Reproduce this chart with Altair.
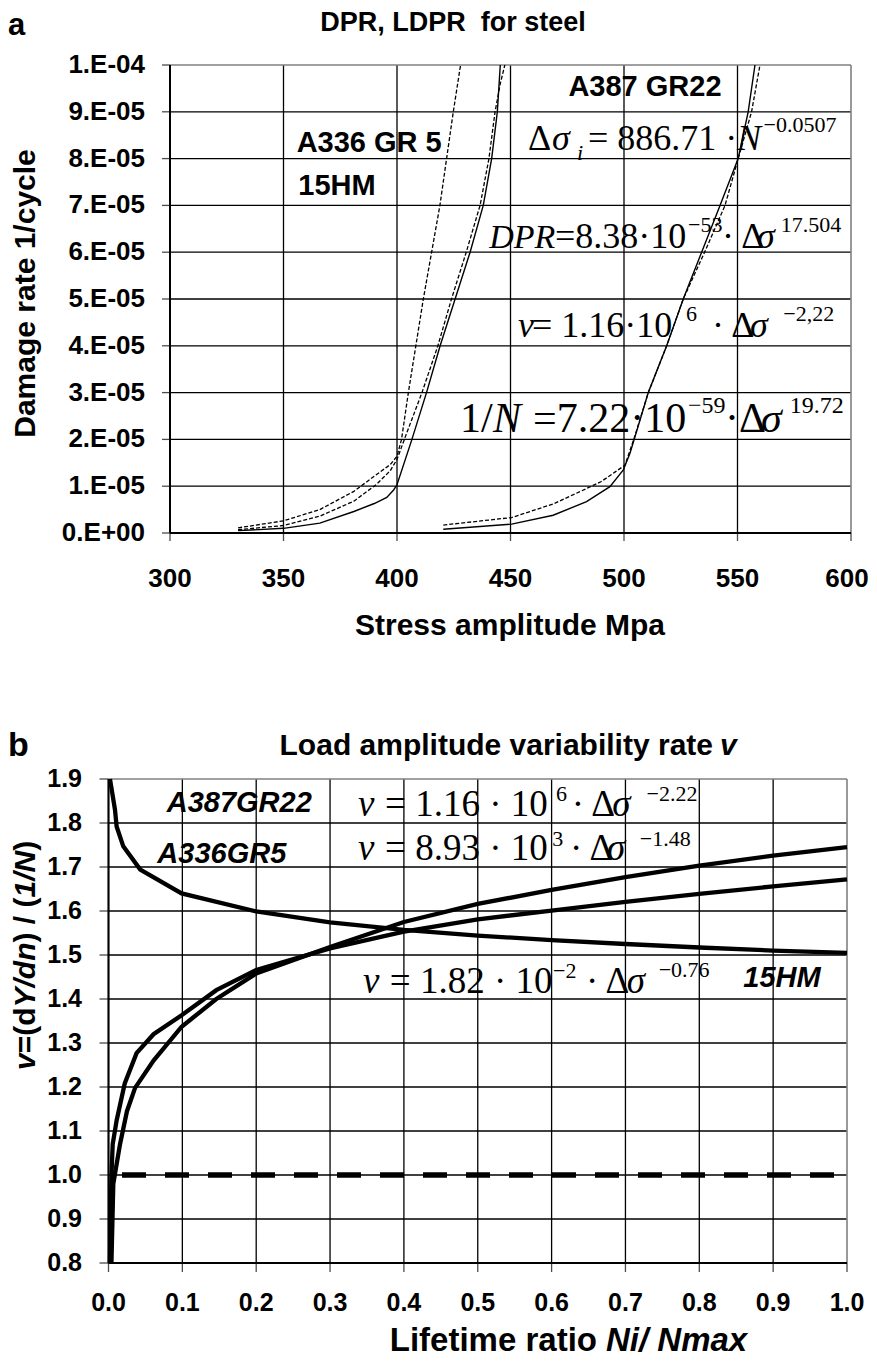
import altair as alt
import pandas as pd

# ---------------- Panel a : damage rate (in 1E-05 1/cycle) vs stress amplitude (MPa)
a336_solid_x = [330, 350, 366, 381, 390, 395.5, 398.5, 400, 406.5, 413, 419, 425.6, 432.2, 438, 441.7, 444.2, 445.5]
a336_solid_y = [0.05, 0.10, 0.21, 0.46, 0.63, 0.76, 0.92, 1.03, 1.99, 3.0, 4.0, 5.0, 6.0, 7.0, 8.0, 9.0, 10.0]
a336_dash1_x = [330, 350, 366, 381, 391, 397, 400, 402, 405, 411.6, 418.9, 424.8, 428]
a336_dash1_y = [0.11, 0.26, 0.50, 0.89, 1.25, 1.46, 1.64, 2.0, 3.0, 5.0, 7.0, 9.0, 10.0]
a336_dash2_x = [330, 350, 366, 381, 391, 397, 400, 404, 411, 418, 424, 430.5, 436.6, 440.5, 443.2, 445.5, 447.5]
a336_dash2_y = [0.07, 0.16, 0.36, 0.68, 1.04, 1.33, 1.57, 2.1, 3.0, 4.0, 5.0, 6.0, 7.0, 8.0, 9.0, 9.6, 10.0]
a387_solid_x = [420.4, 450.5, 468.8, 483.5, 493.8, 499.7, 502.6, 504.5, 510.7, 518.8, 526.1, 534.2, 542.3, 550.3, 554.7, 557.7]
a387_solid_y = [0.08, 0.19, 0.38, 0.67, 0.99, 1.35, 1.70, 2.0, 3.0, 4.0, 5.0, 6.0, 7.0, 8.0, 9.0, 10.0]
a387_dash_x = [420.4, 450.5, 468.8, 483.5, 490, 496, 500.4, 504.3, 510.7, 518.8, 526.1, 535.5, 544.5, 550.3, 556.2, 559.9]
a387_dash_y = [0.17, 0.33, 0.62, 0.95, 1.10, 1.30, 1.45, 2.0, 3.0, 4.0, 5.0, 6.0, 7.0, 8.0, 9.0, 10.0]

a_x_ticks = [300, 350, 400, 450, 500, 550, 600]
a_x_labels = ["300", "350", "400", "450", "500", "550", "600"]
a_y_ticks = [i * 1e-5 for i in range(11)]
a_y_labels = ["0.E+00", "1.E-05", "2.E-05", "3.E-05", "4.E-05", "5.E-05",
              "6.E-05", "7.E-05", "8.E-05", "9.E-05", "1.E-04"]

a_lab_text = ["A336 GR 5", "15HM", "A387 GR22"]
a_lab_x = [355.8, 356.5, 475.5]
a_lab_y = [8.15, 7.22, 9.34]

# formula pieces: text, x (MPa), y (1E-05), font size, italic
a_formula = [
    ("Δ", 457.7, 8.18, 36, False), ("σ", 468.3, 8.18, 36, True), ("i", 479.3, 7.97, 22, True),
    ("= 886.71 ·", 484.1, 8.18, 36, False), ("N", 549.8, 8.18, 36, True), ("−0.0507", 561.5, 8.57, 22, False),
    ("DPR", 440.6, 6.08, 34, True), ("=8.38·10", 469.6, 6.08, 36, False), ("−53", 528.2, 6.44, 22, False),
    ("·\u2009Δ", 543.2, 6.08, 36, False), ("σ", 558.6, 6.08, 36, True), ("17.504", 569.0, 6.44, 22, False),
    ("v", 453.3, 4.19, 36, True), ("= 1.16·10", 459.5, 4.19, 36, False), ("6", 527.3, 4.52, 22, False),
    ("·\u2009Δ", 538.8, 4.19, 36, False), ("σ", 555.5, 4.19, 36, True), ("−2,22", 570.2, 4.52, 22, False),
    ("1/", 427.7, 2.165, 42, False), ("N", 442.3, 2.165, 42, True), ("=7.22·10", 459.9, 2.165, 42, False),
    ("−59", 528.2, 2.56, 24, False), ("·Δ", 544.5, 2.165, 42, False), ("σ", 560.3, 2.165, 42, True),
    ("19.72", 573.0, 2.56, 24, False),
]

# ---------------- Panel b : load amplitude variability rate v vs lifetime ratio
b_A_x = [0.004, 0.0065, 0.0156, 0.025, 0.036, 0.061, 0.099, 0.146, 0.2, 0.3, 0.4, 0.5, 0.6, 0.7, 0.8, 0.9, 1.0]
b_A_y = [0.80, 0.98, 1.07, 1.145, 1.198, 1.26, 1.337, 1.40, 1.458, 1.518, 1.575, 1.616, 1.648, 1.677, 1.703, 1.726, 1.745]
b_B_x = [0.002, 0.003, 0.004, 0.0057, 0.011, 0.022, 0.038, 0.061, 0.099, 0.146, 0.2, 0.3, 0.4, 0.5, 0.6, 0.7, 0.8, 0.9, 1.0]
b_B_y = [0.80, 0.905, 1.0, 1.07, 1.124, 1.208, 1.277, 1.32, 1.363, 1.42, 1.466, 1.515, 1.553, 1.581, 1.601, 1.621, 1.639, 1.656, 1.672]
b_C_x = [0.002, 0.0088, 0.011, 0.02, 0.043, 0.099, 0.2, 0.3, 0.4, 0.5, 0.6, 0.7, 0.8, 0.9, 1.0]
b_C_y = [1.90, 1.83, 1.792, 1.747, 1.694, 1.640, 1.599, 1.574, 1.557, 1.544, 1.534, 1.525, 1.517, 1.510, 1.505]
b_ref_x = [0.0, 1.0]
b_ref_y = [1.0, 1.0]

b_x_ticks = [round(i * 0.1, 1) for i in range(11)]
b_x_labels = ["0.0", "0.1", "0.2", "0.3", "0.4", "0.5", "0.6", "0.7", "0.8", "0.9", "1.0"]
b_y_ticks = [round(0.8 + i * 0.1, 1) for i in range(12)]
b_y_labels = ["0.8", "0.9", "1.0", "1.1", "1.2", "1.3", "1.4", "1.5", "1.6", "1.7", "1.8", "1.9"]

b_lab_text = ["A387GR22", "A336GR5", "15HM"]
b_lab_x = [0.0788, 0.0661, 0.8596]
b_lab_y = [1.826, 1.709, 1.428]

b_formula = [
    ("v", 0.338, 1.815, 37, True), ("= 1.16 · 10", 0.3745, 1.815, 37, False), ("6", 0.6060, 1.849, 22, False),
    ("· Δ", 0.6272, 1.815, 37, False), ("σ", 0.682, 1.815, 37, True), ("−2.22", 0.7285, 1.849, 22, False),
    ("v", 0.338, 1.716, 37, True), ("= 8.93 · 10", 0.3745, 1.716, 37, False), ("3", 0.6010, 1.747, 22, False),
    ("· Δ", 0.6250, 1.716, 37, False), ("σ", 0.675, 1.716, 37, True), ("−1.48", 0.7195, 1.747, 22, False),
    ("v", 0.3446, 1.413, 37, True), ("= 1.82 · 10", 0.381, 1.413, 37, False), ("−2", 0.6020, 1.447, 22, False),
    ("· Δ", 0.6465, 1.413, 37, False), ("σ", 0.7016, 1.413, 37, True), ("−0.76", 0.7450, 1.4506, 22, False),
]

SANS = "Liberation Sans"
SERIF = "Liberation Serif"

# ---------------- canvas and pixel ranges of the two panels
W, H = 861, 1351
A_X_RANGE, A_Y_RANGE = [162, 843], [525, 57]
B_X_RANGE, B_Y_RANGE = [100.5, 839], [1255, 771]


def series_df(pairs, scale=1.0):
    rows = []
    for name, xs, ys in pairs:
        for i, (xv, yv) in enumerate(zip(xs, ys)):
            rows.append({"x": xv, "y": yv * scale, "series": name, "i": i})
    return pd.DataFrame(rows)


def formula_df(items, scale=1.0):
    return pd.DataFrame([{"t": t, "x": x, "y": y * scale, "size": s, "it": it} for t, x, y, s, it in items])


def text_layer(df, x, y, font, size=None, italic=False, bold=False, align="left", baseline="alphabetic", **kw):
    props = dict(font=font, align=align, baseline=baseline, color="black")
    props.update(kw)
    if italic:
        props["fontStyle"] = "italic"
    if bold:
        props["fontWeight"] = "bold"
    if size is not None:
        props["fontSize"] = size
    enc = dict(x=x, y=y, text="t:N")
    if size is None:
        enc["size"] = alt.Size("size:Q", scale=None)
    return alt.Chart(df).mark_text(**props).encode(**enc)


def frame_layers(X, Y, xt, xl, yt, yl, x0, x1, y0, y1, tick, xl_dy, yl_dx, fs, last_dx=0):
    """grid, border, axis lines, tick marks and tick labels drawn from the tick arrays"""
    n_x, n_y = len(xt), len(yt)
    gv = pd.DataFrame({"x": xt[:-1], "y": [y0] * (n_x - 1), "y2": [y1] * (n_x - 1)})
    gh = pd.DataFrame({"x": [x0] * (n_y - 1), "x2": [x1] * (n_y - 1), "y": yt[:-1]})
    border = pd.DataFrame({"x": [x0, x1], "x2": [x1, x1], "y": [y1, y0], "y2": [y1, y1]})
    dom = pd.DataFrame({"x": [x0, x0], "x2": [x0, x1], "y": [y0, y0], "y2": [y1, y0]})
    xtk = pd.DataFrame({"x": xt, "y": [y0] * n_x, "t": xl})
    ytk = pd.DataFrame({"x": [x0] * n_y, "y": yt, "t": yl})
    return [
        alt.Chart(gv).mark_rule(color="black", strokeWidth=1.3).encode(x=X, y=Y, y2="y2:Q"),
        alt.Chart(gh).mark_rule(color="black", strokeWidth=1.3).encode(x=X, x2="x2:Q", y=Y),
        alt.Chart(border).mark_rule(color="#808080", strokeWidth=1.6).encode(x=X, x2="x2:Q", y=Y, y2="y2:Q"),
        alt.Chart(dom).mark_rule(color="black", strokeWidth=2).encode(x=X, x2="x2:Q", y=Y, y2="y2:Q"),
        alt.Chart(xtk).mark_tick(orient="vertical", color="black", thickness=1.3, size=tick,
                                 yOffset=tick / 2).encode(x=X, y=Y),
        alt.Chart(ytk).mark_tick(orient="horizontal", color="black", thickness=1.3, size=tick,
                                 xOffset=-tick / 2).encode(x=X, y=Y),
        text_layer(xtk.iloc[:-1], X, Y, SANS, size=fs, bold=True, align="center", baseline="middle", dy=xl_dy),
        text_layer(xtk.iloc[-1:], X, Y, SANS, size=fs, bold=True, align="center", baseline="middle", dy=xl_dy,
                   dx=last_dx),
        text_layer(ytk, X, Y, SANS, size=fs, bold=True, align="right", baseline="middle", dx=yl_dx),
    ]


# ---------------- Panel a
sx_a = alt.Scale(domain=[300, 600], range=A_X_RANGE, nice=False, zero=False)
sy_a = alt.Scale(domain=[0, 1e-4], range=A_Y_RANGE, nice=False, zero=False)
xa = alt.X("x:Q", scale=sx_a, axis=None)
ya = alt.Y("y:Q", scale=sy_a, axis=None)

a_frame = frame_layers(xa, ya, a_x_ticks, a_x_labels, a_y_ticks, a_y_labels,
                       300, 600, 0.0, 1e-4, 8, 46, -25, 26, last_dx=-4)

a_solid = series_df([("A336/15HM LDPR", a336_solid_x, a336_solid_y),
                     ("A387 LDPR", a387_solid_x, a387_solid_y)], 1e-5)
a_dash = series_df([("A336 DPR", a336_dash1_x, a336_dash1_y),
                    ("15HM DPR", a336_dash2_x, a336_dash2_y),
                    ("A387 DPR", a387_dash_x, a387_dash_y)], 1e-5)
la1 = alt.Chart(a_solid).mark_line(color="black", strokeWidth=1.4).encode(
    x=xa, y=ya, detail="series:N", order="i:Q")
la2 = alt.Chart(a_dash).mark_line(color="black", strokeWidth=1.3, strokeDash=[4, 2]).encode(
    x=xa, y=ya, detail="series:N", order="i:Q")

a_lab = pd.DataFrame({"t": a_lab_text, "x": a_lab_x, "y": [v * 1e-5 for v in a_lab_y]})
ta_lab = text_layer(a_lab, xa, ya, SANS, size=29, bold=True)
fa = formula_df(a_formula, 1e-5)
ta_up = text_layer(fa[~fa.it], xa, ya, SERIF)
ta_it = text_layer(fa[fa.it], xa, ya, SERIF, italic=True)

panel_a = alt.layer(*a_frame, la1, la2, ta_lab, ta_up, ta_it)

# ---------------- Panel b
sx_b = alt.Scale(domain=[0, 1], range=B_X_RANGE, nice=False, zero=False)
sy_b = alt.Scale(domain=[0.8, 1.9], range=B_Y_RANGE, nice=False, zero=False)
xb = alt.X("x:Q", scale=sx_b, axis=None)
yb = alt.Y("y:Q", scale=sy_b, axis=None)

b_frame = frame_layers(xb, yb, b_x_ticks, b_x_labels, b_y_ticks, b_y_labels,
                       0.0, 1.0, 0.8, 1.9, 9, 40, -26.5, 25)

b_curves = series_df([("A387GR22", b_A_x, b_A_y), ("A336GR5", b_B_x, b_B_y), ("15HM", b_C_x, b_C_y)])
b_ref = series_df([("v=1", b_ref_x, b_ref_y)])
lb1 = alt.Chart(b_curves).mark_line(color="black", strokeWidth=4.3).encode(
    x=xb, y=yb, detail="series:N", order="i:Q")
lb2 = alt.Chart(b_ref).mark_line(color="black", strokeWidth=5.5, strokeDash=[24, 19],
                                 strokeDashOffset=29.5).encode(x=xb, y=yb, detail="series:N", order="i:Q")

b_lab = pd.DataFrame({"t": b_lab_text, "x": b_lab_x, "y": b_lab_y})
tb_lab = text_layer(b_lab, xb, yb, SANS, size=29, bold=True, italic=True)
fb = formula_df(b_formula)
tb_up = text_layer(fb[~fb.it], xb, yb, SERIF)
tb_it = text_layer(fb[fb.it], xb, yb, SERIF, italic=True)

panel_b = alt.layer(*b_frame, lb1, lb2, tb_lab, tb_up, tb_it)

# ---------------- titles, panel letters, axis titles (canvas pixels)
deco = pd.DataFrame([
    {"t": "a", "px": 0, "py": 27, "fs": 31, "it": False, "al": "left", "ang": 0},
    {"t": "DPR, LDPR\u00a0 for steel", "px": 445, "py": 23, "fs": 27, "it": False, "al": "center", "ang": 0},
    {"t": "Stress amplitude Mpa", "px": 502, "py": 626.5, "fs": 30, "it": False, "al": "center", "ang": 0},
    {"t": "Damage rate 1/cycle", "px": 18, "py": 285.5, "fs": 30, "it": False, "al": "center", "ang": 270},
    {"t": "b", "px": 0, "py": 748, "fs": 34, "it": False, "al": "left", "ang": 0},
    {"t": "Load amplitude variability rate", "px": 705, "py": 747, "fs": 30, "it": False, "al": "right", "ang": 0},
    {"t": "v", "px": 712, "py": 747, "fs": 30, "it": True, "al": "left", "ang": 0},
    {"t": "Lifetime ratio", "px": 589, "py": 1343, "fs": 33, "it": False, "al": "right", "ang": 0},
    {"t": "Ni/ Nmax", "px": 598, "py": 1343, "fs": 33, "it": True, "al": "left", "ang": 0},
    # rotated y title of panel b: v=(dY/dn) / (1/N)
    {"t": "v", "px": 18, "py": 1062, "fs": 30, "it": True, "al": "left", "ang": 270},
    {"t": "=(d", "px": 18, "py": 1045.3, "fs": 30, "it": False, "al": "left", "ang": 270},
    {"t": "Y/dn", "px": 18, "py": 999.5, "fs": 30, "it": True, "al": "left", "ang": 270},
    {"t": ") / (", "px": 18, "py": 934.5, "fs": 30, "it": False, "al": "left", "ang": 270},
    {"t": "1/N", "px": 18, "py": 889.5, "fs": 30, "it": True, "al": "left", "ang": 270},
    {"t": ")", "px": 18, "py": 842.8, "fs": 30, "it": False, "al": "left", "ang": 270},
])
deco_layers = []
for it in (False, True):
    for al in ("left", "right", "center"):
        for ang in (0, 270):
            sub = deco[(deco.it == it) & (deco.al == al) & (deco.ang == ang)]
            if len(sub) == 0:
                continue
            props = dict(font=SANS, fontWeight="bold", align=al, color="black",
                         baseline="middle" if ang else "alphabetic")
            if it:
                props["fontStyle"] = "italic"
            if ang:
                props["angle"] = ang
            deco_layers.append(alt.Chart(sub).mark_text(**props).encode(
                text="t:N", x=alt.X("px:Q", scale=None), y=alt.Y("py:Q", scale=None),
                size=alt.Size("fs:Q", scale=None)))

chart = alt.layer(panel_a, panel_b, *deco_layers).resolve_scale(
    x="independent", y="independent").properties(
    width=W, height=H, padding=0, autosize=alt.AutoSizeParams(type="none")).configure_view(stroke=None)

chart.save("out.html", embed_options={"renderer": "svg", "actions": False})
